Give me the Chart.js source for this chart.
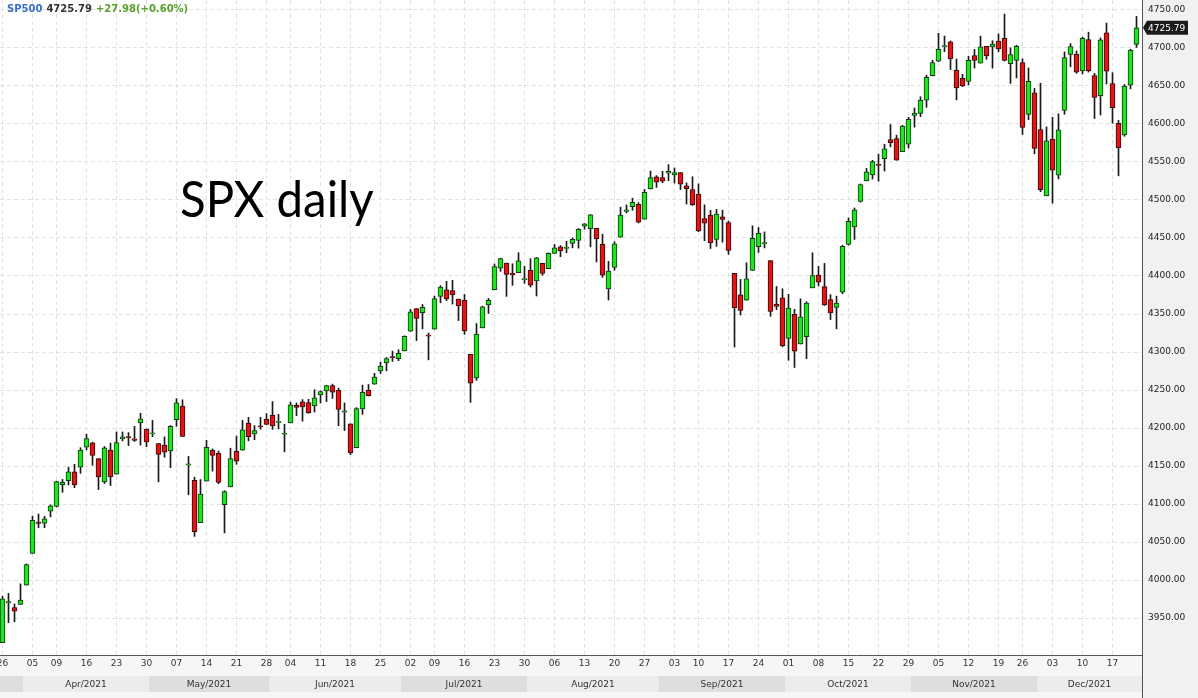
<!DOCTYPE html>
<html><head><meta charset="utf-8">
<script src="https://cdn.jsdelivr.net/npm/chart.js@4"></script>
<style>html,body{margin:0;padding:0;background:#fff;overflow:hidden}canvas{display:block}</style>
</head><body>
<canvas id="c" width="1198" height="698"></canvas>
<script>
const dates = ['2021-03-26','2021-03-29','2021-03-30','2021-03-31','2021-04-01','2021-04-05','2021-04-06','2021-04-07','2021-04-08','2021-04-09','2021-04-12','2021-04-13','2021-04-14','2021-04-15','2021-04-16','2021-04-19','2021-04-20','2021-04-21','2021-04-22','2021-04-23','2021-04-26','2021-04-27','2021-04-28','2021-04-29','2021-04-30','2021-05-03','2021-05-04','2021-05-05','2021-05-06','2021-05-07','2021-05-10','2021-05-11','2021-05-12','2021-05-13','2021-05-14','2021-05-17','2021-05-18','2021-05-19','2021-05-20','2021-05-21','2021-05-24','2021-05-25','2021-05-26','2021-05-27','2021-05-28','2021-06-01','2021-06-02','2021-06-03','2021-06-04','2021-06-07','2021-06-08','2021-06-09','2021-06-10','2021-06-11','2021-06-14','2021-06-15','2021-06-16','2021-06-17','2021-06-18','2021-06-21','2021-06-22','2021-06-23','2021-06-24','2021-06-25','2021-06-28','2021-06-29','2021-06-30','2021-07-01','2021-07-02','2021-07-06','2021-07-07','2021-07-08','2021-07-09','2021-07-12','2021-07-13','2021-07-14','2021-07-15','2021-07-16','2021-07-19','2021-07-20','2021-07-21','2021-07-22','2021-07-23','2021-07-26','2021-07-27','2021-07-28','2021-07-29','2021-07-30','2021-08-02','2021-08-03','2021-08-04','2021-08-05','2021-08-06','2021-08-09','2021-08-10','2021-08-11','2021-08-12','2021-08-13','2021-08-16','2021-08-17','2021-08-18','2021-08-19','2021-08-20','2021-08-23','2021-08-24','2021-08-25','2021-08-26','2021-08-27','2021-08-30','2021-08-31','2021-09-01','2021-09-02','2021-09-03','2021-09-07','2021-09-08','2021-09-09','2021-09-10','2021-09-13','2021-09-14','2021-09-15','2021-09-16','2021-09-17','2021-09-20','2021-09-21','2021-09-22','2021-09-23','2021-09-24','2021-09-27','2021-09-28','2021-09-29','2021-09-30','2021-10-01','2021-10-04','2021-10-05','2021-10-06','2021-10-07','2021-10-08','2021-10-11','2021-10-12','2021-10-13','2021-10-14','2021-10-15','2021-10-18','2021-10-19','2021-10-20','2021-10-21','2021-10-22','2021-10-25','2021-10-26','2021-10-27','2021-10-28','2021-10-29','2021-11-01','2021-11-02','2021-11-03','2021-11-04','2021-11-05','2021-11-08','2021-11-09','2021-11-10','2021-11-11','2021-11-12','2021-11-15','2021-11-16','2021-11-17','2021-11-18','2021-11-19','2021-11-22','2021-11-23','2021-11-24','2021-11-26','2021-11-29','2021-11-30','2021-12-01','2021-12-02','2021-12-03','2021-12-06','2021-12-07','2021-12-08','2021-12-09','2021-12-10','2021-12-13','2021-12-14','2021-12-15','2021-12-16','2021-12-17','2021-12-20','2021-12-21','2021-12-22','2021-12-23'];
const open = [3917.12,3969.31,3963.34,3967.25,3992.78,4034.44,4075.57,4074.29,4089.95,4096.11,4124.71,4130.10,4141.58,4148.00,4174.14,4179.80,4159.18,4128.42,4170.46,4138.78,4185.03,4188.25,4185.14,4206.14,4198.10,4191.98,4179.04,4177.06,4169.14,4210.34,4228.29,4150.34,4130.55,4074.99,4129.58,4169.92,4165.94,4098.45,4121.97,4168.61,4170.16,4205.94,4191.59,4201.94,4210.77,4216.52,4206.82,4191.43,4206.05,4229.34,4233.81,4232.99,4228.56,4242.90,4248.31,4255.28,4248.87,4220.37,4204.78,4173.40,4224.61,4249.27,4256.97,4274.45,4284.90,4293.21,4290.65,4300.73,4326.60,4356.46,4351.01,4321.07,4329.38,4372.41,4381.07,4380.11,4369.02,4367.43,4296.40,4265.11,4331.13,4361.27,4381.20,4409.58,4416.38,4402.95,4403.59,4395.12,4406.86,4392.74,4415.95,4408.86,4429.07,4437.77,4435.79,4442.18,4446.08,4464.84,4461.65,4462.12,4440.94,4382.44,4410.56,4450.29,4484.40,4490.45,4493.75,4474.10,4513.76,4529.75,4528.80,4534.48,4532.42,4535.38,4518.09,4513.02,4506.92,4474.81,4479.33,4447.49,4477.09,4469.74,4402.95,4374.45,4367.43,4406.75,4438.04,4442.12,4419.54,4362.41,4370.67,4317.16,4348.84,4309.87,4319.57,4383.73,4400.50,4385.44,4368.31,4358.01,4378.00,4441.00,4463.72,4497.34,4524.42,4532.24,4546.12,4553.69,4578.69,4580.22,4562.84,4572.87,4610.62,4613.34,4630.65,4662.93,4682.00,4701.48,4707.25,4670.26,4659.39,4655.24,4689.30,4679.42,4701.50,4700.72,4708.44,4712.00,4678.48,4683.00,4680.00,4612.00,4640.25,4592.00,4504.73,4579.00,4532.00,4617.00,4690.86,4691.00,4669.00,4710.30,4663.00,4636.46,4719.13,4652.50,4600.00,4585.00,4650.36,4703.96];
const high = [3978.19,3981.83,3968.01,3994.41,4020.63,4083.42,4086.23,4083.13,4098.19,4129.48,4131.76,4148.00,4151.69,4173.49,4191.31,4180.81,4159.18,4175.02,4179.57,4194.17,4194.19,4193.35,4201.53,4218.78,4198.10,4209.39,4179.04,4187.72,4202.70,4238.04,4236.39,4162.04,4134.73,4131.58,4183.13,4171.92,4169.15,4116.93,4172.80,4188.72,4209.52,4213.42,4202.61,4213.38,4218.36,4234.12,4217.37,4204.39,4233.45,4232.34,4236.74,4237.09,4249.74,4248.38,4255.59,4257.16,4251.89,4232.29,4204.78,4226.24,4255.84,4256.60,4271.28,4286.12,4292.14,4300.52,4302.43,4320.66,4355.43,4356.46,4361.88,4324.32,4372.87,4386.68,4392.37,4393.68,4369.02,4375.09,4296.40,4336.84,4359.70,4369.87,4415.18,4422.73,4416.38,4415.47,4429.97,4412.25,4422.18,4423.79,4416.17,4429.76,4440.82,4439.39,4445.21,4449.44,4461.77,4468.37,4480.26,4462.12,4454.32,4418.61,4444.35,4489.88,4492.81,4501.71,4495.90,4513.33,4537.36,4531.39,4537.11,4545.85,4541.45,4535.38,4521.79,4529.90,4520.47,4492.99,4485.68,4486.87,4485.87,4471.52,4402.95,4394.87,4416.75,4465.40,4463.12,4457.30,4419.54,4385.57,4382.55,4375.19,4355.51,4369.23,4365.57,4429.97,4412.02,4415.88,4374.89,4372.87,4439.73,4475.82,4488.75,4520.40,4540.87,4551.44,4559.67,4572.62,4598.53,4584.57,4597.55,4608.08,4620.34,4635.15,4663.46,4683.00,4718.50,4714.92,4708.53,4684.85,4664.55,4688.47,4697.42,4714.95,4701.50,4708.80,4717.75,4743.83,4699.39,4702.87,4685.00,4672.95,4646.02,4652.94,4595.46,4608.03,4612.60,4694.04,4705.06,4695.26,4713.57,4720.00,4666.00,4712.60,4731.99,4666.70,4604.00,4651.14,4697.67,4740.74];
const low = [3917.12,3943.25,3944.35,3966.98,3992.78,4034.44,4068.14,4068.31,4082.54,4095.51,4114.82,4124.43,4120.87,4139.76,4170.75,4150.47,4118.38,4126.35,4123.69,4138.78,4182.36,4176.22,4181.78,4176.81,4174.85,4188.03,4128.59,4160.94,4147.33,4201.64,4188.13,4111.53,4056.88,4074.99,4129.58,4142.69,4125.99,4061.41,4121.97,4151.72,4170.16,4182.52,4184.11,4197.78,4203.57,4197.59,4198.27,4167.93,4206.05,4215.66,4208.41,4218.74,4220.34,4232.25,4234.07,4238.35,4202.45,4196.05,4164.40,4173.40,4217.27,4241.43,4256.97,4271.16,4274.67,4286.96,4287.96,4300.73,4326.60,4314.37,4329.79,4289.04,4329.38,4364.03,4366.92,4362.36,4340.70,4322.53,4233.13,4262.05,4331.13,4350.06,4381.20,4405.45,4372.51,4387.01,4403.59,4389.65,4384.81,4373.00,4400.23,4408.86,4429.07,4424.74,4430.03,4436.42,4435.96,4460.82,4437.66,4417.83,4397.59,4367.73,4406.80,4450.29,4482.28,4485.66,4468.99,4474.10,4513.76,4515.80,4522.02,4524.66,4521.52,4513.00,4493.95,4492.07,4457.66,4445.70,4435.46,4438.37,4443.80,4427.76,4305.91,4347.96,4367.43,4406.75,4430.27,4436.19,4346.33,4355.08,4306.24,4288.52,4278.94,4309.87,4290.49,4383.73,4386.22,4360.59,4342.09,4329.92,4376.00,4440.00,4447.47,4496.41,4524.40,4526.89,4524.00,4537.36,4569.17,4551.66,4562.84,4567.59,4595.06,4609.00,4621.19,4662.59,4681.32,4694.39,4670.87,4630.86,4648.31,4650.77,4672.86,4679.42,4684.41,4672.78,4694.22,4682.17,4652.66,4659.89,4585.43,4605.00,4560.00,4510.27,4504.73,4495.12,4527.00,4612.00,4674.52,4665.98,4665.00,4667.60,4606.52,4611.22,4651.89,4600.22,4531.10,4583.16,4645.53,4700.00];
const close = [3974.54,3971.09,3958.55,3972.89,4019.87,4077.91,4073.94,4079.95,4097.17,4128.80,4127.99,4141.59,4124.66,4170.42,4185.47,4163.26,4134.94,4173.42,4134.98,4180.17,4187.62,4186.72,4183.18,4211.47,4181.17,4192.66,4164.66,4167.59,4201.62,4232.60,4188.43,4152.10,4063.04,4112.50,4173.85,4163.29,4127.83,4115.68,4159.12,4155.86,4197.05,4188.13,4195.99,4200.88,4204.11,4202.04,4208.12,4192.85,4229.89,4226.52,4227.26,4219.55,4239.18,4247.44,4255.15,4246.59,4223.70,4221.86,4166.45,4224.79,4246.44,4241.84,4266.49,4280.70,4290.61,4291.80,4297.50,4319.94,4352.34,4343.54,4358.13,4320.82,4369.55,4384.63,4369.21,4374.30,4360.03,4327.16,4258.49,4323.06,4358.69,4367.48,4411.79,4422.30,4401.46,4400.64,4419.15,4395.26,4387.16,4423.15,4402.66,4429.10,4436.52,4432.35,4436.75,4447.70,4460.83,4468.00,4479.71,4448.08,4400.27,4405.80,4441.67,4479.53,4486.23,4496.19,4470.00,4509.37,4528.79,4522.68,4524.09,4536.95,4535.43,4520.03,4514.07,4493.28,4458.58,4468.73,4443.05,4480.70,4473.75,4432.99,4357.73,4354.19,4395.64,4448.98,4455.48,4443.11,4352.63,4359.46,4307.54,4357.04,4300.46,4345.72,4363.55,4399.76,4391.34,4361.19,4350.65,4363.80,4438.26,4471.37,4486.46,4519.63,4536.19,4549.78,4544.90,4566.48,4574.79,4551.68,4596.42,4605.38,4613.67,4630.65,4660.57,4680.06,4697.53,4701.70,4685.25,4646.71,4649.27,4682.85,4682.80,4700.90,4688.67,4704.54,4697.96,4682.94,4690.70,4701.46,4594.62,4655.27,4567.00,4513.04,4577.10,4538.43,4591.67,4686.75,4701.21,4667.45,4712.02,4668.97,4634.09,4709.85,4668.67,4620.64,4568.02,4649.23,4696.56,4725.79];
const tickDates = ['2021-03-26','2021-04-05','2021-04-09','2021-04-16','2021-04-23','2021-04-30','2021-05-07','2021-05-14','2021-05-21','2021-05-28','2021-06-04','2021-06-11','2021-06-18','2021-06-25','2021-07-02','2021-07-09','2021-07-16','2021-07-23','2021-07-30','2021-08-06','2021-08-13','2021-08-20','2021-08-27','2021-09-03','2021-09-10','2021-09-17','2021-09-24','2021-10-01','2021-10-08','2021-10-15','2021-10-22','2021-10-29','2021-11-05','2021-11-12','2021-11-19','2021-11-26','2021-12-03','2021-12-10','2021-12-17'];
const yTicks = [3950,4000,4050,4100,4150,4200,4250,4300,4350,4400,4450,4500,4550,4600,4650,4700,4750];
const monthNames = ['Jan','Feb','Mar','Apr','May','Jun','Jul','Aug','Sep','Oct','Nov','Dec'];
const symbol = 'SP500';
const lastChange = '+27.98(+0.60%)';
const noteText = 'SPX daily';

const tickIdx = tickDates.map(d => dates.indexOf(d));
const tickLabelOf = {};
tickIdx.forEach(i => { tickLabelOf[i] = dates[i].slice(8, 10); });

const UP = '#22e322', DOWN = '#e01515';
const wickData = dates.map((d, i) => ({x: i, y: [low[i], high[i]]}));
const bodyData = dates.map((d, i) => {
  let a = Math.min(open[i], close[i]), b = Math.max(open[i], close[i]);
  if (b - a < 1.4) { const m = (a + b) / 2; a = m - 0.7; b = m + 0.7; }
  return {x: i, y: [a, b]};
});
const bodyColors = dates.map((d, i) => close[i] >= open[i] ? UP : DOWN);
const bodyBorders = dates.map((d, i) => close[i] >= open[i] ? '#0b3a0b' : '#3a0505');

function line(ctx, x1, y1, x2, y2) { ctx.beginPath(); ctx.moveTo(x1, y1); ctx.lineTo(x2, y2); ctx.stroke(); }

const decor = {
  id: 'decor',
  beforeDraw(chart) {
    const {ctx, chartArea: a, width, height} = chart;
    const xs = chart.scales.x, ys = chart.scales.y;
    ctx.save();
    ctx.fillStyle = '#ffffff'; ctx.fillRect(0, 0, width, height);
    ctx.fillStyle = '#f1f1f1'; ctx.fillRect(a.right, 0, width - a.right, height);
    ctx.fillStyle = '#f6f6f6'; ctx.fillRect(0, a.bottom, a.right, height - a.bottom);
    // month band
    const bandTop = 676, bandH = 16;
    let starts = [];
    dates.forEach((d, i) => { if (i === 0 || d.slice(5, 7) !== dates[i - 1].slice(5, 7)) starts.push(i); });
    starts.forEach((s, k) => {
      const x0 = k === 0 ? a.left : Math.floor(xs.getPixelForValue(s - 0.5));
      const x1 = k === starts.length - 1 ? a.right : Math.floor(xs.getPixelForValue(starts[k + 1] - 0.5));
      ctx.fillStyle = (k % 2 === 0) ? '#dedede' : '#ececec';
      ctx.fillRect(x0, bandTop, x1 - x0, bandH);
      if (x1 - x0 > 60) {
        const d = dates[s];
        ctx.fillStyle = '#333';
        ctx.font = '9px "DejaVu Sans"';
        ctx.textAlign = 'center'; ctx.textBaseline = 'middle';
        ctx.fillText(monthNames[parseInt(d.slice(5, 7)) - 1] + '/' + d.slice(0, 4), (x0 + x1) / 2, bandTop + bandH / 2 + 0.5);
      }
    });
    // grid
    ctx.strokeStyle = '#e2e2e2'; ctx.lineWidth = 1; ctx.setLineDash([4, 3]);
    yTicks.forEach(v => { const y = Math.round(ys.getPixelForValue(v)) + 0.5; line(ctx, a.left, y, a.right, y); });
    tickIdx.forEach(i => { const x = Math.floor(xs.getPixelForValue(i)) + 0.5; line(ctx, x, a.top, x, a.bottom); });
    ctx.setLineDash([]);
    ctx.strokeStyle = '#555';
    line(ctx, a.right + 0.5, 0, a.right + 0.5, height);
    line(ctx, 0, a.bottom + 0.5, a.right, a.bottom + 0.5);
    ctx.restore();
  },
  afterDraw(chart) {
    const {ctx, chartArea: a} = chart;
    const ys = chart.scales.y;
    ctx.save();
    // note text
    ctx.fillStyle = '#000';
    ctx.font = '51px Lato';
    ctx.textAlign = 'left'; ctx.textBaseline = 'alphabetic';
    ctx.translate(180, 217); ctx.scale(0.93, 1);
    ctx.fillText(noteText, 0, 0);
    ctx.setTransform(1, 0, 0, 1, 0, 0);
    // header
    ctx.font = 'bold 10px "DejaVu Sans"';
    ctx.textBaseline = 'middle';
    let x = 7;
    const last = close[close.length - 1].toFixed(2);
    [[symbol, '#3b6fc6'], [last, '#333333'], [lastChange, '#58a12b']].forEach(([t, c]) => {
      ctx.fillStyle = c; ctx.fillText(t, x, 9.5); x += ctx.measureText(t).width + 4;
    });
    // last price tag
    const y = ys.getPixelForValue(close[close.length - 1]);
    ctx.fillStyle = '#1a1a1a';
    ctx.beginPath();
    ctx.moveTo(a.right + 1, y);
    ctx.lineTo(a.right + 5, y - 7);
    ctx.lineTo(a.right + 46, y - 7);
    ctx.lineTo(a.right + 46, y + 7);
    ctx.lineTo(a.right + 5, y + 7);
    ctx.closePath(); ctx.fill();
    ctx.fillStyle = '#ffffff';
    ctx.font = '9px "DejaVu Sans"';
    ctx.textAlign = 'left';
    ctx.fillText(last, a.right + 6, y + 0.5);
    ctx.restore();
  }
};

new Chart(document.getElementById('c'), {
  type: 'bar',
  data: {
    datasets: [
      {label: 'wick', data: wickData, backgroundColor: '#1a1a1a', borderWidth: 0, barThickness: 1, grouped: false, order: 2},
      {label: 'body', data: bodyData, backgroundColor: bodyColors, borderColor: bodyBorders, borderWidth: 1, borderSkipped: false, barThickness: 5, grouped: false, order: 1}
    ]
  },
  options: {
    responsive: false, animation: false, devicePixelRatio: 1,
    layout: {padding: 0},
    plugins: {legend: {display: false}, tooltip: {enabled: false}},
    scales: {
      x: {
        type: 'linear', position: 'bottom', offset: false, min: -2.5 / 6, max: -2.5 / 6 + 1142 / 6,
        grid: {display: false, drawTicks: false, offset: false}, border: {display: false},
        afterBuildTicks: s => { s.ticks = tickIdx.map(v => ({value: v})); },
        afterFit: s => { s.height = 43; s.paddingLeft = 0; s.paddingRight = 0; s.paddingTop = 0; s.paddingBottom = 0; },
        ticks: {autoSkip: false, maxRotation: 0, padding: 3, color: '#333', font: {family: 'DejaVu Sans', size: 9},
          callback: v => tickLabelOf[v] || ''}
      },
      y: {
        type: 'linear', position: 'right', min: 3950 - 37.4 / 0.76025, max: 4750 + 9.4 / 0.76025,
        grid: {display: false, drawTicks: false}, border: {display: false},
        afterBuildTicks: s => { s.ticks = yTicks.map(v => ({value: v})); },
        afterFit: s => { s.width = 56; s.paddingLeft = 0; s.paddingRight = 0; s.paddingTop = 0; s.paddingBottom = 0; },
        ticks: {padding: 6, color: '#222', font: {family: 'DejaVu Sans', size: 9}, callback: v => Number(v).toFixed(2)}
      }
    }
  },
  plugins: [decor]
});
</script>
</body></html>
